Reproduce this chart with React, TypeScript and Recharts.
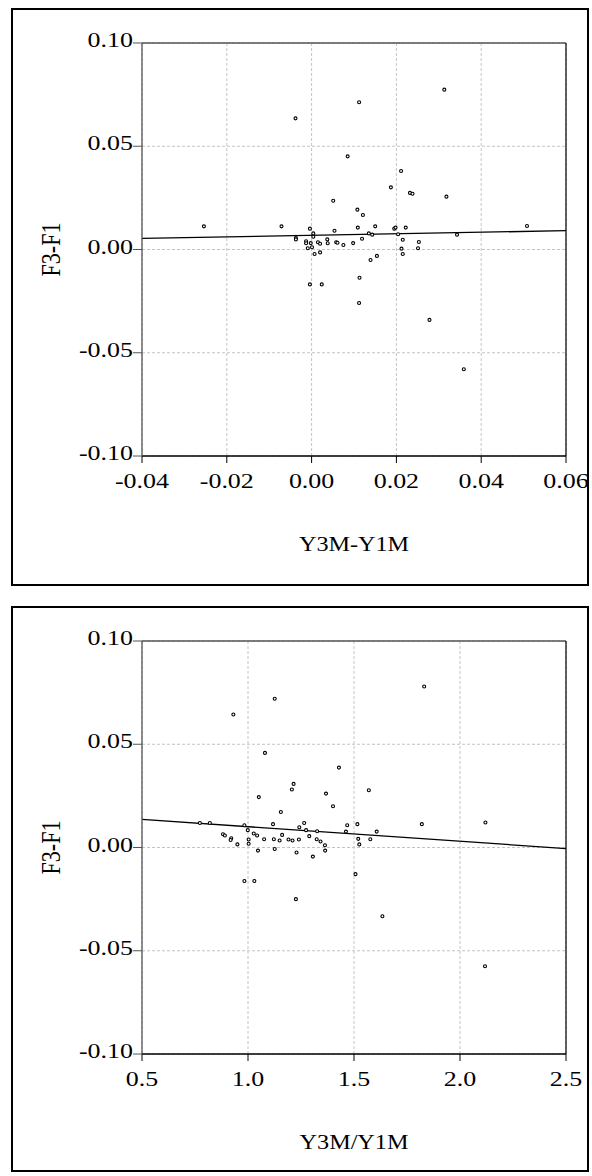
import React from 'react';
import { ScatterChart, Scatter, XAxis, YAxis, CartesianGrid, ReferenceLine } from 'recharts';

const FONT = '"Liberation Serif", "Times New Roman", serif';

// ---------- Chart 1: F3-F1 vs Y3M-Y1M ----------
const diffX = [
  0.0112, -0.0038, 0.0085, 0.0051, 0.0108, -0.0254, -0.0071, -0.0004, 0.0054, 0.0109,
  0.0004, 0.0004, -0.0037, -0.0037, -0.0013, -0.0013, -0.0002, 0.0015, 0.0020, 0.0038,
  0.0058, 0.0061, 0.0075, 0.0098, -0.0009, 0.0001, 0.0007, 0.0020, 0.0037, 0.0113,
  -0.0004, 0.0024, 0.0313, 0.0211, 0.0187, 0.0232, 0.0238, 0.0318, 0.0121, 0.0150,
  0.0195, 0.0198, 0.0222, 0.0508, 0.0135, 0.0143, 0.0204, 0.0343, 0.0119, 0.0215,
  0.0253, 0.0212, 0.0251, 0.0215, 0.0154, 0.0139, 0.0112, 0.0278, 0.0359,
];
const diffF = [
  0.0713, 0.0635, 0.0451, 0.0236, 0.0193, 0.0112, 0.0112, 0.0101, 0.0091, 0.0106,
  0.0078, 0.0062, 0.0056, 0.0049, 0.0040, 0.0030, 0.0031, 0.0035, 0.0028, 0.0030,
  0.0035, 0.0033, 0.0022, 0.0031, 0.0006, 0.0011, -0.0022, -0.0014, 0.0049, -0.0137,
  -0.0169, -0.0169, 0.0774, 0.0380, 0.0301, 0.0274, 0.0270, 0.0256, 0.0167, 0.0112,
  0.0101, 0.0106, 0.0106, 0.0114, 0.0078, 0.0072, 0.0074, 0.0072, 0.0052, 0.0047,
  0.0036, 0.0004, 0.0006, -0.0022, -0.0031, -0.0051, -0.0259, -0.0341, -0.0580,
];
const fit1X = [-0.04, 0.06];
const fit1Y = [0.0054, 0.0091];
const x1Ticks = [-0.04, -0.02, 0, 0.02, 0.04, 0.06];
const x1Labels = ['-0.04', '-0.02', '0.00', '0.02', '0.04', '0.06'];

// ---------- Chart 2: F3-F1 vs Y3M/Y1M ----------
const ratioX = [
  1.126, 0.931, 1.080, 1.429, 1.215, 1.207, 1.368, 1.051, 1.401, 1.155,
  0.773, 0.820, 0.983, 1.118, 1.265, 1.468, 1.516, 0.999, 1.242, 1.274,
  1.326, 1.462, 0.882, 0.891, 1.027, 1.043, 1.161, 1.289, 0.921, 0.918,
  1.076, 1.122, 1.149, 1.191, 1.210, 1.240, 1.324, 1.342, 1.363, 1.003,
  1.003, 0.950, 1.520, 1.525, 1.047, 1.126, 1.229, 1.306, 1.364, 1.507,
  0.983, 1.030, 1.831, 1.570, 1.820, 2.120, 1.607, 1.577, 1.226, 1.634, 2.118,
];
const ratioF = [
  0.0720, 0.0644, 0.0458, 0.0387, 0.0308, 0.0281, 0.0261, 0.0244, 0.0200, 0.0172,
  0.0119, 0.0119, 0.0108, 0.0113, 0.0119, 0.0108, 0.0113, 0.0084, 0.0098, 0.0084,
  0.0079, 0.0077, 0.0064, 0.0058, 0.0068, 0.0058, 0.0061, 0.0055, 0.0045, 0.0036,
  0.0040, 0.0040, 0.0034, 0.0039, 0.0034, 0.0039, 0.0040, 0.0029, 0.0011, 0.0039,
  0.0018, 0.0015, 0.0042, 0.0015, -0.0015, -0.0007, -0.0024, -0.0044, -0.0015, -0.0129,
  -0.0162, -0.0162, 0.0780, 0.0277, 0.0113, 0.0121, 0.0077, 0.0040, -0.0250, -0.0333, -0.0575,
];
const fit2X = [0.5, 2.5];
const fit2Y = [0.0136, -0.0005];
const x2Ticks = [0.5, 1.0, 1.5, 2.0, 2.5];
const x2Labels = ['0.5', '1.0', '1.5', '2.0', '2.5'];

// ---------- Shared Y axis ----------
const yTicks = [-0.1, -0.05, 0, 0.05, 0.1];
const yLabels = ['-0.10', '-0.05', '0.00', '0.05', '0.10'];
const yTitle = 'F3-F1';

const zipPts = (xs: number[], ys: number[]) => xs.map((x, i) => ({ x, y: ys[i] }));

const Dot = (p: any) => (
  <circle cx={p.cx} cy={p.cy} r={1.5} fill="#fff" stroke="#000" strokeWidth={1.1} />
);

const makeYTick = () => (props: any) => {
  const { x, y, payload } = props;
  const idx = yTicks.indexOf(payload.value);
  return (
    <g transform={`translate(${x},${y})`}>
      <text transform="scale(1.18,1)" textAnchor="end" dy={4} fontFamily={FONT} fontSize={22} fill="#000">
        {idx >= 0 ? yLabels[idx] : ''}
      </text>
    </g>
  );
};

const makeXTick = (ticks: number[], labels: string[]) => (props: any) => {
  const { x, y, payload } = props;
  const idx = ticks.indexOf(payload.value);
  return (
    <g transform={`translate(${x},${y})`}>
      <text transform="scale(1.18,1)" textAnchor="middle" dy={25.5} fontFamily={FONT} fontSize={22} fill="#000">
        {idx >= 0 ? labels[idx] : ''}
      </text>
    </g>
  );
};

const XTitle = (text: string) => (props: any) => {
  const vb = props.viewBox || {};
  const cx = vb.x + vb.width / 2;
  const by = vb.y + 95;
  return (
    <g transform={`translate(${cx},${by}) scale(1.1,1)`}>
      <text textAnchor="middle" fontFamily={FONT} fontSize={22} fill="#000">{text}</text>
    </g>
  );
};

const YTitle = (props: any) => {
  const vb = props.viewBox || {};
  const cx = vb.x - 30.5;
  const cy = vb.y + vb.height / 2;
  return (
    <g transform={`translate(${cx},${cy}) scale(1.2,1) rotate(-90)`}>
      <text textAnchor="middle" dy={7} fontFamily={FONT} fontSize={22} fill="#000">{yTitle}</text>
    </g>
  );
};

type PanelProps = {
  top: number;
  pts: { x: number; y: number }[];
  fitX: number[];
  fitY: number[];
  xTicks: number[];
  xLabels: string[];
  xTitle: string;
};

const Panel = ({ top, pts, fitX, fitY, xTicks, xLabels, xTitle }: PanelProps) => {
  const xMin = xTicks[0];
  const xMax = xTicks[xTicks.length - 1];
  return (
    <div style={{ position: 'absolute', left: 0, top, width: 592, height: 586 }}>
      <ScatterChart
        width={592}
        height={586}
        margin={{ top: 43, right: 26, bottom: 90, left: 82 }}
        style={{ position: 'absolute', left: 0, top: 0 }}
      >
        <CartesianGrid stroke="#c4c4c4" strokeDasharray="3 2" />
        <XAxis
          type="number"
          dataKey="x"
          domain={[xMin, xMax]}
          ticks={xTicks}
          allowDataOverflow
          height={40}
          tickSize={7}
          tickMargin={0}
          axisLine={{ stroke: '#000', strokeWidth: 1.6 }}
          tickLine={{ stroke: '#000', strokeWidth: 1 }}
          tick={makeXTick(xTicks, xLabels)}
          interval={0}
          label={{ content: XTitle(xTitle) }}
        />
        <YAxis
          type="number"
          dataKey="y"
          domain={[-0.1, 0.1]}
          ticks={yTicks}
          allowDataOverflow
          width={60}
          tickSize={9}
          tickMargin={0}
          axisLine={{ stroke: '#555', strokeWidth: 1.3 }}
          tickLine={{ stroke: '#555', strokeWidth: 1 }}
          tick={makeYTick()}
          interval={0}
          label={{ content: YTitle }}
        />
        <ReferenceLine y={0.1} stroke="#555" strokeWidth={1.3} />
        <ReferenceLine x={xMax} stroke="#111" strokeWidth={1.3} />
        <ReferenceLine
          segment={[{ x: fitX[0], y: fitY[0] }, { x: fitX[1], y: fitY[1] }]}
          stroke="#000"
          strokeWidth={1.3}
        />
        <Scatter data={pts} shape={Dot} isAnimationActive={false} />
      </ScatterChart>
    </div>
  );
};

export default function App() {
  return (
    <div style={{ position: 'absolute', left: 0, top: 0, width: 592, height: 1176, background: '#fff' }}>
      <div style={{ position: 'absolute', left: 11, top: 8, width: 578, height: 578, border: '2px solid #000', boxSizing: 'border-box' }} />
      <div style={{ position: 'absolute', left: 11, top: 606, width: 578, height: 566, border: '2px solid #000', boxSizing: 'border-box' }} />
      <Panel top={0} pts={zipPts(diffX, diffF)} fitX={fit1X} fitY={fit1Y} xTicks={x1Ticks} xLabels={x1Labels} xTitle="Y3M-Y1M" />
      <Panel top={597.5} pts={zipPts(ratioX, ratioF)} fitX={fit2X} fitY={fit2Y} xTicks={x2Ticks} xLabels={x2Labels} xTitle="Y3M/Y1M" />
    </div>
  );
}
